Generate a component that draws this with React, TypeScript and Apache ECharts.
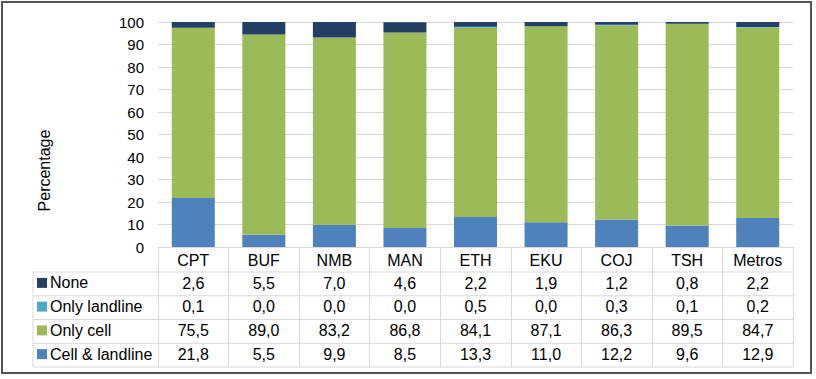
import React, { useEffect, useRef } from "react";
import * as echarts from "echarts";

const categories = ["CPT", "BUF", "NMB", "MAN", "ETH", "EKU", "COJ", "TSH", "Metros"];
const noneVals = [2.6, 5.5, 7.0, 4.6, 2.2, 1.9, 1.2, 0.8, 2.2];
const onlyLandline = [0.1, 0.0, 0.0, 0.0, 0.5, 0.0, 0.3, 0.1, 0.2];
const onlyCell = [75.5, 89.0, 83.2, 86.8, 84.1, 87.1, 86.3, 89.5, 84.7];
const cellLandline = [21.8, 5.5, 9.9, 8.5, 13.3, 11.0, 12.2, 9.6, 12.9];
const yTicks = [0, 10, 20, 30, 40, 50, 60, 70, 80, 90, 100];
const yTitle = "Percentage";

const seriesNames = ["None", "Only landline", "Only cell", "Cell & landline"];
const seriesValues = [noneVals, onlyLandline, onlyCell, cellLandline];
const seriesColors = ["#233F66", "#4BACC6", "#9BBB59", "#4F81BD"];

const W = 816;
const H = 379;
const FONT = "'Liberation Sans', Arial, sans-serif";
const GRID_LEFT = 158;
const GRID_RIGHT = 793;
const GRID_TOP = 22;
const GRID_BOTTOM_Y = 247;
const TABLE_LEFT = 33;
const ROW_LINES = [272, 295.75, 319.5, 343.25, 367];
const LINE_COLOR = "#D9D9D9";
const TEXT_SIZE = 16;

const fmt = (v: number) => v.toFixed(1).replace(".", ",");

export default function App() {
  const ref = useRef<HTMLDivElement>(null);
  useEffect(() => {
    if (!ref.current) return;
    const chart = echarts.init(ref.current, undefined, { renderer: "svg" });

    const valueAxes = seriesValues.map((vals, r) => ({
      type: "category",
      gridIndex: 0,
      position: "bottom",
      offset: ROW_LINES[r] - GRID_BOTTOM_Y,
      data: vals.map(fmt),
      axisLine: { show: false },
      axisTick: { show: false },
      splitLine: { show: false },
      axisLabel: { interval: 0, margin: 3, fontSize: TEXT_SIZE, color: "#000", fontFamily: FONT },
    }));

    const graphics: any[] = [];
    ROW_LINES.forEach((y) => {
      graphics.push({
        type: "line",
        shape: { x1: TABLE_LEFT, y1: y, x2: GRID_RIGHT, y2: y },
        style: { stroke: LINE_COLOR, lineWidth: 1 },
        silent: true,
      });
    });
    graphics.push({
      type: "line",
      shape: { x1: TABLE_LEFT, y1: ROW_LINES[0], x2: TABLE_LEFT, y2: ROW_LINES[ROW_LINES.length - 1] },
      style: { stroke: LINE_COLOR, lineWidth: 1 },
      silent: true,
    });
    graphics.push({
      type: "rect",
      shape: { x: 2, y: 2, width: 809, height: 371 },
      style: { fill: "none", stroke: "#555555", lineWidth: 2 },
      silent: true,
    });
    graphics.push({
      type: "text",
      x: 44,
      y: 170.5,
      rotation: Math.PI / 2,
      style: {
        text: yTitle,
        fontSize: TEXT_SIZE,
        fontFamily: FONT,
        fill: "#000",
        align: "center",
        verticalAlign: "middle",
      },
      silent: true,
    });

    const rowCenters = ROW_LINES.slice(0, 4).map((y, i) => (y + ROW_LINES[i + 1]) / 2);

    chart.setOption({
      animation: false,
      backgroundColor: "#fff",
      grid: {
        left: GRID_LEFT,
        right: W - GRID_RIGHT,
        top: GRID_TOP,
        bottom: H - GRID_BOTTOM_Y,
        containLabel: false,
      },
      legend: seriesNames.map((n, i) => ({
        data: [n],
        left: 37,
        top: rowCenters[i] - 9,
        padding: 0,
        orient: "horizontal",
        icon: "rect",
        itemWidth: 10,
        itemHeight: 10,
        selectedMode: false,
        textStyle: { fontSize: TEXT_SIZE, color: "#000", fontFamily: FONT, padding: [0, 0, 0, -2] },
      })),
      xAxis: [
        {
          type: "category",
          data: categories,
          boundaryGap: true,
          axisLine: { show: true, lineStyle: { color: LINE_COLOR } },
          axisTick: {
            show: true,
            interval: 0,
            length: ROW_LINES[ROW_LINES.length - 1] - GRID_BOTTOM_Y,
            lineStyle: { color: LINE_COLOR },
          },
          axisLabel: { interval: 0, margin: 5, fontSize: TEXT_SIZE, color: "#000", fontFamily: FONT },
        },
        ...valueAxes,
      ],
      yAxis: {
        type: "value",
        min: 0,
        max: 100,
        interval: 10,
        axisLine: { show: false },
        axisTick: { show: false },
        splitLine: { show: true, lineStyle: { color: LINE_COLOR } },
        axisLabel: {
          margin: 14,
          fontSize: 15,
          color: "#000",
          fontFamily: FONT,
          customValues: yTicks,
        },
      },
      series: [3, 2, 1, 0].map((i) => ({
        name: seriesNames[i],
        type: "bar",
        stack: "total",
        xAxisIndex: 0,
        barWidth: 43,
        itemStyle: { color: seriesColors[i] },
        data: seriesValues[i],
      })),
      graphic: graphics,
    });
    return () => chart.dispose();
  }, []);
  return (
    <div
      ref={ref}
      style={{ position: "fixed", left: 0, top: 0, width: W, height: H, background: "#fff" }}
    />
  );
}
